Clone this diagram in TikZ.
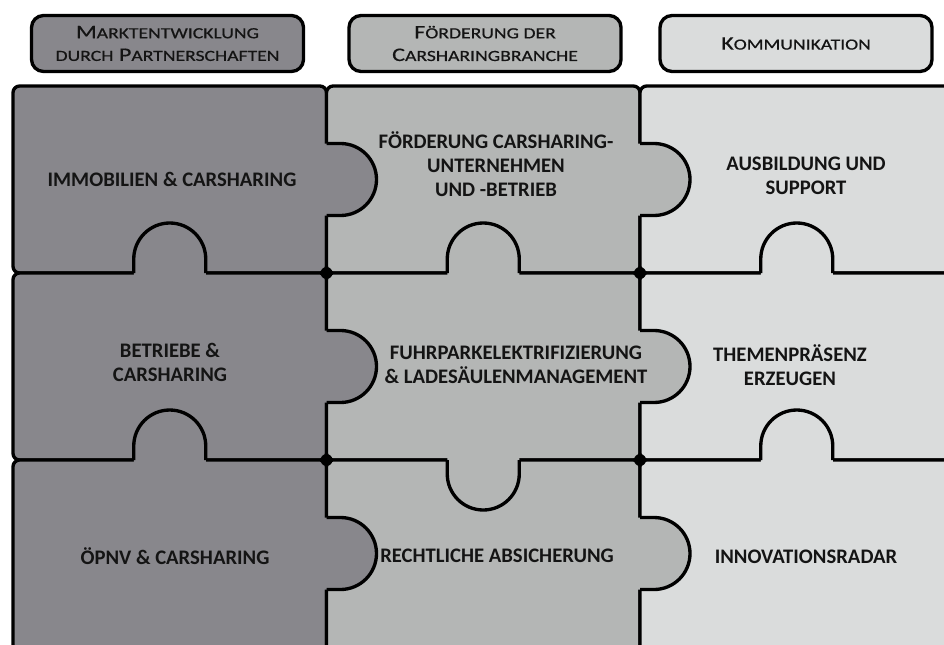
\documentclass[tikz,border=0pt]{standalone}
\usepackage{fontspec}
\setmainfont{Carlito}
\newfontfamily\headfont[FakeStretch=1.27,FakeBold=0.6]{Carlito}
\definecolor{colA}{RGB}{136,135,140}
\definecolor{colB}{RGB}{180,182,181}
\definecolor{colC}{RGB}{218,220,220}
\definecolor{ink}{RGB}{20,20,20}
\newcommand{\smc}[1]{{\fontsize{11.6}{17}\selectfont #1}}
\tikzset{
  piece/.style={draw=black,line width=2.5pt,rounded corners=5pt},
  knob/.style={draw=black,line width=2.5pt},
  headbox/.style={draw=black,line width=2.5pt,rounded corners=9pt,minimum width=204pt,minimum height=42pt,
    align=center,text=ink,font=\headfont\fontsize{14.3}{17}\selectfont},
  piecetext/.style={align=center,text=ink,font=\bfseries\fontsize{15.5}{18}\selectfont}
}
\begin{document}
\begin{tikzpicture}[x=0.75pt,y=0.75pt]
  \useasboundingbox (0,0) rectangle (944,644);
  \clip (0,0) rectangle (944,644);
  \node[headbox,fill=colA] (markt) at (167.5,600.5) {M\smc{ARKTENTWICKLUNG}\\\smc{DURCH} P\smc{ARTNERSCHAFTEN}};
  \node[headbox,fill=colB] (foerder) at (485,600.5) {F\smc{ÖRDERUNG DER}\\C\smc{ARSHARINGBRANCHE}};
  \node[headbox,fill=colC] (komm) at (796,600.5) {K\smc{OMMUNIKATION}};
  \foreach \c/\col in {0/colA,1/colB,2/colC}
    \foreach \r/\h in {0/187,1/187,2/200}
      \draw[piece,fill=\col] ({13+313.5*\c},{558-187*\r}) rectangle ++(313.5,-\h);
  \foreach \c/\col in {1/colA,2/colB}
    \foreach \r in {0,1,2} {
      \fill[\col] ({13+313.5*\c-3},{500.5-187*\r}) -- ++(17,0) arc[start angle=90,end angle=-90,radius=36] -- ++(-17,0) -- cycle;
      \draw[knob] ({13+313.5*\c},{500.5-187*\r}) -- ++(14,0) arc[start angle=90,end angle=-90,radius=36] -- ++(-14,0);
    }
  \foreach \c/\y/\s/\col in {0/371/1/colA,1/371/1/colB,2/371/1/colC,0/184/1/colA,1/184/-1/colB,2/184/1/colC} {
    \fill[\col] ({133.75+313.5*\c},{\y-3*\s}) -- ++(0,17*\s) arc[start angle=180,end angle={180-180*\s},radius=36] -- ++(0,-17*\s) -- cycle;
    \draw[knob] ({133.75+313.5*\c},\y) -- ++(0,14*\s) arc[start angle=180,end angle={180-180*\s},radius=36] -- ++(0,-14*\s);
  }
  \foreach \x in {326.5,640}
    \foreach \y in {371,184}
      \fill (\x,\y) circle[radius=6];
  \node[piecetext] (immo) at (172,465) {IMMOBILIEN \& CARSHARING};
  \node[piecetext] (unternehmen) at (496,480) {FÖRDERUNG CARSHARING-\\UNTERNEHMEN\\UND -BETRIEB};
  \node[piecetext] (ausbildung) at (806,468) {AUSBILDUNG UND\\SUPPORT};
  \node[piecetext] (betriebe) at (170,282) {BETRIEBE \&\\CARSHARING};
  \node[piecetext] (fuhrpark) at (516,279) {FUHRPARKELEKTRIFIZIERUNG\\\& LADESÄULENMANAGEMENT};
  \node[piecetext] (themen) at (790,279) {THEMENPRÄSENZ\\ERZEUGEN};
  \node[piecetext] (oepnv) at (175,88) {ÖPNV \& CARSHARING};
  \node[piecetext] (recht) at (497,88) {RECHTLICHE ABSICHERUNG};
  \node[piecetext] (radar) at (806,87) {INNOVATIONSRADAR};
\end{tikzpicture}
\end{document}
